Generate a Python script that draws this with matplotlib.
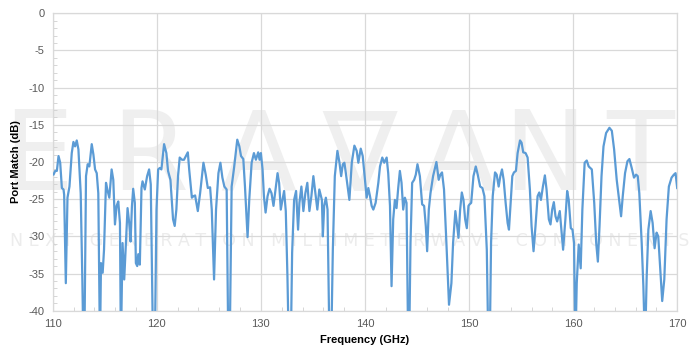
import numpy as np
import matplotlib
matplotlib.use("Agg")
import matplotlib.pyplot as plt
from matplotlib.ticker import MultipleLocator

# port match trace (GHz, dB); values below -40 are clipped
freq_ghz = [
    110.0, 110.08, 110.24, 110.4, 110.56, 110.72, 110.88, 111.04, 111.1, 111.26,
    111.42, 111.61, 111.83, 111.99, 112.15, 112.31, 112.47, 112.69, 112.85, 112.95,
    113.04, 113.2, 113.36, 113.52, 113.75, 113.91, 114.07, 114.23, 114.38, 114.54,
    114.64, 114.8, 114.93, 115.12, 115.28, 115.44, 115.66, 115.82, 115.98, 116.14,
    116.3, 116.46, 116.55, 116.71, 116.87, 117.03, 117.19, 117.35, 117.48, 117.61,
    117.73, 117.89, 117.99, 118.12, 118.22, 118.37, 118.53, 118.63, 118.85, 119.07,
    119.26, 119.42, 119.64, 119.81, 119.97, 120.13, 120.29, 120.44, 120.7, 120.92,
    121.08, 121.31, 121.56, 121.72, 121.88, 122.04, 122.2, 122.42, 122.61,
    122.98, 123.11, 123.37, 123.52, 123.68, 123.94, 124.16, 124.48, 124.7, 124.9,
    125.12, 125.28, 125.5, 125.69, 125.92, 126.11, 126.3, 126.49, 126.71, 126.87,
    127.0, 127.19, 127.42, 127.58, 127.73, 127.93, 128.09, 128.31, 128.47, 128.72,
    128.88, 129.11, 129.33, 129.52, 129.74, 129.87, 130.0, 130.16, 130.29, 130.45,
    130.64, 130.83, 131.02, 131.21, 131.4, 131.6, 131.75, 131.91, 132.07, 132.23,
    132.39, 132.55, 132.68, 132.87, 133.0, 133.19, 133.38, 133.57, 133.7, 133.89,
    134.08, 134.27, 134.46, 134.66, 134.85, 135.04, 135.23, 135.42, 135.61,
    135.86, 135.95, 136.08, 136.24, 136.4, 136.59, 136.75, 136.91, 137.1, 137.35,
    137.55, 137.71, 137.87, 138.02, 138.18, 138.5, 138.73, 138.98, 139.2, 139.36,
    139.59, 139.78, 140.0, 140.16, 140.32, 140.48, 140.64, 140.8, 141.02, 141.28,
    141.44, 141.66, 141.85, 142.08, 142.23, 142.4, 142.55, 142.71, 142.87, 143.03,
    143.19, 143.35, 143.51, 143.67, 143.83, 143.99, 144.15, 144.24, 144.37, 144.53,
    144.72, 144.88, 145.04, 145.27, 145.49, 145.68, 145.84, 145.97, 146.13, 146.29,
    146.54, 146.86, 147.08, 147.24, 147.4, 147.59, 147.82, 148.07, 148.3, 148.46,
    148.68,
    148.82, 148.98, 149.14, 149.3, 149.46, 149.62, 149.78, 149.94, 150.04, 150.2,
    150.42, 150.64, 150.83, 151.06, 151.28, 151.47, 151.7, 151.85, 151.98, 152.11,
    152.27, 152.49, 152.65, 152.84, 153.0, 153.16, 153.32, 153.51, 153.7, 153.83,
    153.99, 154.15, 154.31, 154.5, 154.66, 154.89, 155.04, 155.2, 155.43, 155.62,
    155.84, 156.0, 156.19, 156.38, 156.58, 156.74, 156.9, 157.09, 157.28, 157.44,
    157.66, 157.82, 157.98, 158.14, 158.3, 158.46, 158.71, 159.03, 159.25, 159.42,
    159.57, 159.77, 159.93, 160.08, 160.21, 160.34, 160.53, 160.72, 160.88, 161.1,
    161.3, 161.49,
    161.79, 162.02, 162.21, 162.37, 162.53, 162.72, 162.91, 163.16, 163.48, 163.71,
    163.93, 164.18, 164.44, 164.6, 164.76, 164.98, 165.21, 165.4, 165.62, 165.84,
    166.04, 166.2, 166.35, 166.58, 166.74, 166.9, 167.06, 167.22, 167.44, 167.63,
    167.82, 168.01, 168.17, 168.33, 168.55, 168.75, 168.97, 169.19, 169.45, 169.67,
    169.83, 169.99,
]
port_match_db = [
    -21.6, -21.7, -21.2, -21.2, -19.2, -20.1, -23.5, -23.7, -24.4, -36.3,
    -24.8, -23.3, -18.8, -17.3, -17.9, -17.1, -18.3, -24.2, -36.0, -45.0,
    -45.0, -21.9, -20.3, -20.6, -17.6, -19.0, -21.0, -21.5, -24.2, -45.0,
    -33.6, -34.9, -31.8, -22.8, -23.9, -24.8, -21.0, -22.4, -28.4, -25.9,
    -25.3, -28.2, -45.0, -30.9, -35.8, -30.9, -26.2, -28.2, -30.7, -26.0,
    -23.6, -25.5, -33.6, -34.0, -32.4, -33.8, -23.5, -22.6, -23.7, -21.9,
    -21.0, -23.0, -45.0, -45.0, -26.4, -21.0, -20.8, -21.0, -17.6, -18.8,
    -21.2, -22.4, -27.7, -28.6, -26.4, -21.9, -19.4, -19.7, -19.7,
    -18.7, -21.0, -24.8, -24.6, -24.5, -26.6, -24.2, -20.1, -21.7, -23.5,
    -23.4, -26.4, -35.8, -26.4, -21.5, -20.1, -22.1, -23.3, -23.7, -45.0,
    -45.0, -23.3, -20.8, -18.8, -17.0, -17.9, -19.2, -19.6, -23.3, -30.1,
    -25.1, -20.1, -18.8, -19.7, -18.7, -19.7, -18.8, -21.0, -24.6, -26.8,
    -24.6, -23.6, -24.2, -25.9, -23.7, -21.5, -22.8, -26.4, -25.1, -23.9,
    -26.6, -35.4, -45.0, -45.0, -32.2, -25.1, -23.9, -29.1, -25.5, -23.3,
    -26.6, -24.2, -22.8, -26.6, -24.6, -21.9, -24.2, -26.4, -23.7,
    -25.1, -30.0, -25.9, -24.8, -26.4, -45.0, -45.0, -31.8, -21.9, -18.5,
    -20.1, -21.9, -20.3, -20.1, -21.7, -25.1, -20.1, -17.8, -18.5, -20.1,
    -18.2, -19.2, -22.4, -24.8, -23.5, -24.6, -25.9, -26.4, -25.5, -22.8,
    -20.6, -19.4, -20.1, -19.4, -21.5, -25.9, -36.7, -27.7, -25.1, -26.2,
    -23.5, -21.2, -22.8, -26.4, -24.8, -25.5, -45.0, -45.0, -30.9, -22.8,
    -22.4, -21.7, -20.3, -21.9, -25.7, -25.9, -28.6, -32.0, -26.4, -24.2,
    -21.9, -20.0, -22.4, -21.7, -21.4, -23.7, -30.9, -39.2, -36.3, -30.9,
    -26.6,
    -28.2, -30.2, -26.4, -24.1, -25.1, -27.7, -28.9, -25.9, -25.7, -25.5,
    -21.9, -20.6, -21.7, -23.3, -23.5, -24.6, -31.8, -45.0, -45.0, -30.9,
    -24.6, -21.4, -21.7, -23.3, -21.9, -21.0, -22.4, -25.5, -28.2, -29.1,
    -25.5, -21.9, -21.4, -21.2, -18.8, -17.1, -17.4, -18.7, -18.8, -19.4,
    -23.7, -28.6, -32.0, -28.6, -24.6, -24.1, -25.1, -23.3, -21.8, -23.7,
    -27.7, -28.4, -26.4, -25.4, -27.3, -28.0, -26.6, -31.8, -27.7, -23.9,
    -25.1, -28.9, -29.1, -30.9, -45.0, -36.3, -31.1, -34.3, -26.4, -20.1,
    -19.8, -20.6,
    -21.0, -25.5, -30.9, -33.4, -28.6, -21.9, -17.9, -16.1, -15.4, -15.8,
    -18.3, -22.4, -25.5, -27.3, -24.6, -21.5, -19.9, -19.6, -20.8, -22.1,
    -21.7, -21.9, -24.2, -30.9, -36.7, -45.0, -35.4, -29.1, -26.6, -28.2,
    -31.6, -29.5, -30.0, -33.6, -38.7, -35.8, -27.7, -23.3, -22.1, -21.7,
    -21.5, -23.5,
]

x_ticks = [110, 120, 130, 140, 150, 160, 170]
y_ticks = [-40, -35, -30, -25, -20, -15, -10, -5, 0]

watermark_letters = ["E", "R", "A", "\u2207", "A", "N", "T"]
watermark_x = [38, 150, 258, 360, 458, 545, 640]  # pixel centres
slogan = "NEXT GENERATION MILLIMETERWAVE COMPONENTS"

plt.rcParams["font.family"] = ["Liberation Sans", "DejaVu Sans"]
plt.rcParams["axes.unicode_minus"] = False

W, H = 696, 350
fig = plt.figure(figsize=(W / 100, H / 100), dpi=100)
ax = fig.add_axes([52.7 / W, 1 - 310.7 / H, (677.3 - 52.7) / W, (310.7 - 13.3) / H])
ax.set_facecolor("none")
ax.set_zorder(1)

# faint company watermark behind the plot
for ch, xc in zip(watermark_letters, watermark_x):
    fig.text(xc / W, 1 - 160 / H, ch, fontsize=80, color="#efefef",
             ha="center", va="center", zorder=0, family="DejaVu Sans")
fig.text(350 / W, 1 - 241 / H, " ".join(slogan), fontsize=12.5, color="#ececec",
         ha="center", va="center", zorder=0, family="DejaVu Sans")

ax.plot(freq_ghz, port_match_db, color="#5B9BD5", lw=1.6, zorder=3)

ax.set_xlim(110, 170)
ax.set_ylim(-40, 0)
ax.set_xticks(x_ticks)
ax.set_yticks(y_ticks)
ax.xaxis.set_minor_locator(MultipleLocator(2))
ax.yaxis.set_minor_locator(MultipleLocator(1))
ax.tick_params(which="major", length=0, labelsize=8, labelcolor="#595959", pad=6)
ax.tick_params(which="minor", direction="in", length=3, color="#d0d0d0")
ax.grid(True, which="major", color="#d9d9d9", lw=0.9, zorder=1)
for s in ax.spines.values():
    s.set_color("#d9d9d9")
    s.set_linewidth(0.9)

ax.set_xlabel("Frequency (GHz)", fontsize=8, fontweight="bold", labelpad=4)
ax.set_ylabel("Port Match (dB)", fontsize=8, fontweight="bold", labelpad=5)

fig.savefig("out.png", dpi=100)
